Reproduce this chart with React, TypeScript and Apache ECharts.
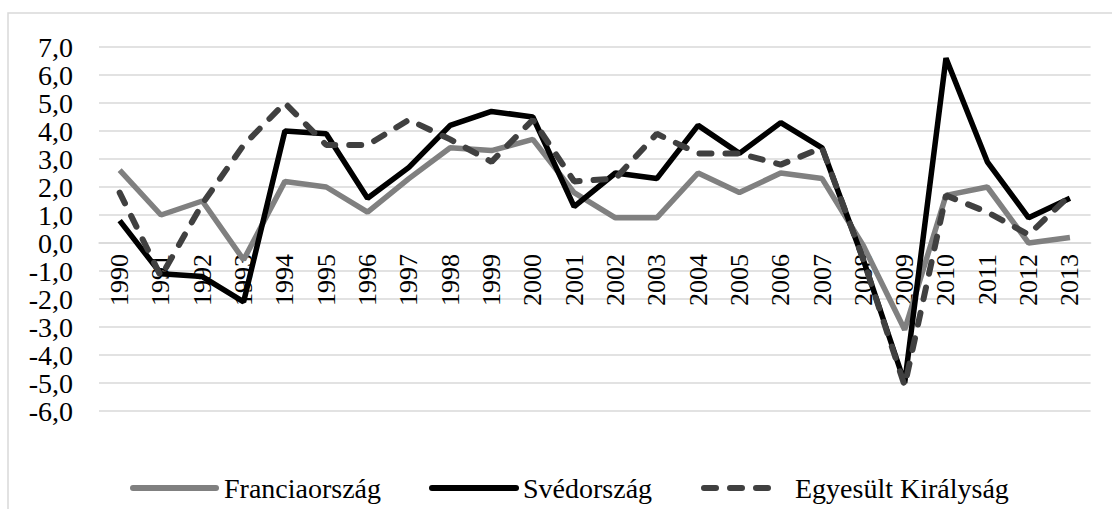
import React, { useEffect, useRef } from "react";
import * as echarts from "echarts";

const years = ["1990","1991","1992","1993","1994","1995","1996","1997","1998","1999","2000","2001","2002","2003","2004","2005","2006","2007","2008","2009","2010","2011","2012","2013"];
const seriesNames = ["Franciaország", "Svédország", "Egyesült Királyság"];
const france = [2.6,1.0,1.5,-0.6,2.2,2.0,1.1,2.3,3.4,3.3,3.7,1.8,0.9,0.9,2.5,1.8,2.5,2.3,-0.1,-3.1,1.7,2.0,0.0,0.2];
const sweden = [0.8,-1.1,-1.2,-2.1,4.0,3.9,1.6,2.7,4.2,4.7,4.5,1.3,2.5,2.3,4.2,3.2,4.3,3.4,-0.6,-5.0,6.6,2.9,0.9,1.6];
const uk = [1.8,-1.2,1.4,3.5,5.0,3.5,3.5,4.4,3.7,2.9,4.4,2.2,2.3,3.9,3.2,3.2,2.8,3.4,-0.6,-5.1,1.7,1.1,0.3,1.7];
const yMin = -6;
const yMax = 7;
const yStep = 1;

const FONT = "Liberation Serif, serif";
const GRID = "#d9d9d9";
const colors = ["#808080", "#000000", "#404040"];

const GRID_TOP = 47;
const GRID_BOTTOM = 98;
const CHART_H = 509;

function legendGraphic() {
  const cy = 488;
  const items = [
    { x0: 133, x1: 216, tx: 224 },
    { x0: 432, x1: 516, tx: 523 },
    { x0: 704, x1: 777, tx: 795 },
  ];
  const out: any[] = [];
  items.forEach((it, i) => {
    out.push({
      type: "line",
      shape: { x1: it.x0, y1: cy, x2: it.x1, y2: cy },
      style: {
        stroke: colors[i],
        lineWidth: 6,
        lineCap: "round",
        lineDash: i === 2 ? [12, 14] : null,
      },
      silent: true,
    });
    out.push({
      type: "text",
      x: it.tx,
      y: cy,
      style: {
        text: seriesNames[i],
        fontFamily: FONT,
        fontSize: 28,
        fill: "#000",
        verticalAlign: "middle",
        align: "left",
      },
      silent: true,
    });
  });
  return out;
}

export default function App() {
  const ref = useRef<HTMLDivElement>(null);
  useEffect(() => {
    document.body.style.margin = "0";
    if (!ref.current) return;
    const chart = echarts.init(ref.current, null, { renderer: "svg" });
    // move the category axis up from the grid's bottom edge to the value 0
    const plotH = CHART_H - GRID_TOP - GRID_BOTTOM;
    const zeroOffset = -(plotH * (0 - yMin)) / (yMax - yMin);
    chart.setOption({
      animation: false,
      backgroundColor: "#ffffff",
      graphic: [
        {
          type: "rect",
          shape: { x: 8, y: 13, width: 1300, height: 700 },
          style: { fill: "none", stroke: GRID, lineWidth: 1.5 },
          silent: true,
          z: -1,
        },
        ...legendGraphic(),
      ],
      grid: { left: 99, right: 21.4, top: GRID_TOP, bottom: GRID_BOTTOM, outerBoundsMode: "none" },
      xAxis: [
        {
          type: "category",
          data: years,
          boundaryGap: true,
          offset: zeroOffset,
          axisLine: { show: true, onZero: false, lineStyle: { color: GRID, width: 1.5 } },
          axisTick: { show: false },
          axisLabel: {
            show: true,
            rotate: 90,
            interval: 0,
            margin: 11,
            fontFamily: FONT,
            fontSize: 26,
            color: "#000",
          },
          splitLine: { show: false },
        },
      ],
      yAxis: [
        {
          type: "value",
          min: yMin,
          max: yMax,
          interval: yStep,
          axisLine: { show: false },
          axisTick: { show: false },
          axisLabel: {
            margin: 26,
            fontFamily: FONT,
            fontSize: 28,
            color: "#000",
            formatter: (v: number) => v.toFixed(1).replace(".", ","),
          },
          splitLine: { show: true, lineStyle: { color: GRID, width: 1.5 } },
        },
      ],
      series: [
        {
          name: seriesNames[0],
          type: "line",
          data: france,
          symbol: "none",
          lineStyle: { color: colors[0], width: 5.5 },
          z: 2,
        },
        {
          name: seriesNames[1],
          type: "line",
          data: sweden,
          symbol: "none",
          lineStyle: { color: colors[1], width: 5.5 },
          z: 3,
        },
        {
          name: seriesNames[2],
          type: "line",
          data: uk,
          symbol: "none",
          lineStyle: { color: colors[2], width: 6, type: [12, 14], cap: "round" },
          z: 4,
        },
      ],
    });
    return () => chart.dispose();
  }, []);
  return <div ref={ref} style={{ width: 1112, height: 509 }} />;
}
